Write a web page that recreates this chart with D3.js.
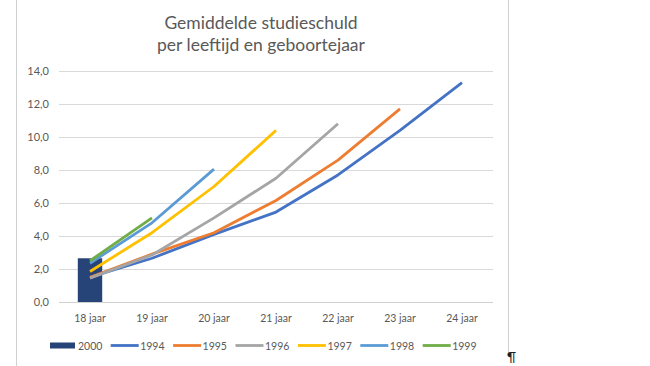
<!DOCTYPE html>
<html><head><meta charset="utf-8">
<script src="https://cdn.jsdelivr.net/npm/d3@7"></script>
<style>body{margin:0;background:#fff;}svg{display:block;font-family:"Lato","Open Sans",sans-serif;}</style>
</head><body>
<svg id="c" width="650" height="366"></svg>
<script>
const categories = ["18 jaar","19 jaar","20 jaar","21 jaar","22 jaar","23 jaar","24 jaar"];
const barSeries = {name:"2000", values:[2.65]};
const s1994 = [1.5, 2.65, 4.1, 5.45, 7.7, 10.4, 13.3];
const s1995 = [1.5, 2.9, 4.2, 6.15, 8.6, 11.7];
const s1996 = [1.45, 2.85, 5.1, 7.5, 10.8];
const s1997 = [1.85, 4.2, 7.0, 10.4];
const s1998 = [2.35, 4.8, 8.05];
const s1999 = [2.5, 5.1];
const lineNames = ["1994","1995","1996","1997","1998","1999"];
const lineValues = [s1994,s1995,s1996,s1997,s1998,s1999];
const colors = {"2000":"#264478","1994":"#4472C4","1995":"#ED7D31","1996":"#A5A5A5","1997":"#FFC000","1998":"#5B9BD5","1999":"#70AD47"};
const yTicks = [0,2,4,6,8,10,12,14];

const svg = d3.select("#c");
// page borders
svg.append("line").attr("x1",16.5).attr("x2",16.5).attr("y1",0).attr("y2",366).attr("stroke","#d0d0d0");
svg.append("line").attr("x1",508.5).attr("x2",508.5).attr("y1",0).attr("y2",356).attr("stroke","#d0d0d0");
svg.append("text").attr("x",507).attr("y",362).attr("font-size",13).attr("fill","#222").text("¶");

// title
const title = svg.append("text").attr("text-anchor","middle").attr("fill","#595959").attr("font-size",17.5);
title.append("tspan").attr("x",261).attr("y",29).text("Gemiddelde studieschuld");
title.append("tspan").attr("x",261).attr("y",51).text("per leeftijd en geboortejaar");

const x = d3.scaleBand().domain(categories).range([59,493]);
const y = d3.scaleLinear().domain([0,14]).range([302,71]);

// grid
svg.append("g").selectAll("line").data(yTicks).join("line")
  .attr("x1",59).attr("x2",493).attr("y1",d=>Math.round(y(d))+0.5).attr("y2",d=>Math.round(y(d))+0.5)
  .attr("stroke",d=>d===0?"#d0d0d0":"#d9d9d9").attr("stroke-width",1);

// y axis labels
const fmt = d=>d3.format(".1f")(d).replace(".",",");
svg.append("g").selectAll("text").data(yTicks).join("text")
  .attr("x",49).attr("y",d=>y(d)+4).attr("text-anchor","end").attr("font-size",11).attr("fill","#595959").text(fmt);

// x labels
svg.append("g").selectAll("text").data(categories).join("text")
  .attr("x",d=>x(d)+x.bandwidth()/2).attr("y",321.5).attr("text-anchor","middle").attr("font-size",10.5).attr("fill","#595959").text(d=>d);

// bar
const bw = 24.4;
svg.append("g").selectAll("rect").data(barSeries.values).join("rect")
  .attr("x",(d,i)=>x(categories[i])+x.bandwidth()/2-bw/2).attr("width",bw)
  .attr("y",d=>y(d)).attr("height",d=>y(0)-y(d)).attr("fill",colors["2000"]);

// lines
const line = d3.line().x((d,i)=>x(categories[i])+x.bandwidth()/2).y(d=>y(d));
lineNames.forEach((n,k)=>{
  svg.append("path").datum(lineValues[k]).attr("d",line).attr("fill","none")
    .attr("stroke",colors[n]).attr("stroke-width",2.8).attr("stroke-linejoin","round");
});

// legend
const lg = svg.append("g");
lg.append("rect").attr("x",50).attr("y",342.5).attr("width",25).attr("height",6).attr("fill",colors["2000"]);
lg.append("text").attr("x",78).attr("y",349.5).attr("font-size",10.5).attr("fill","#595959").text("2000");
lineNames.forEach((n,i)=>{
  const lx = 110.7 + i*62.4;
  lg.append("line").attr("x1",lx).attr("x2",lx+28).attr("y1",345.5).attr("y2",345.5).attr("stroke",colors[n]).attr("stroke-width",2.8);
  lg.append("text").attr("x",lx+29.5).attr("y",349.5).attr("font-size",10.5).attr("fill","#595959").text(n);
});
</script>
</body></html>
